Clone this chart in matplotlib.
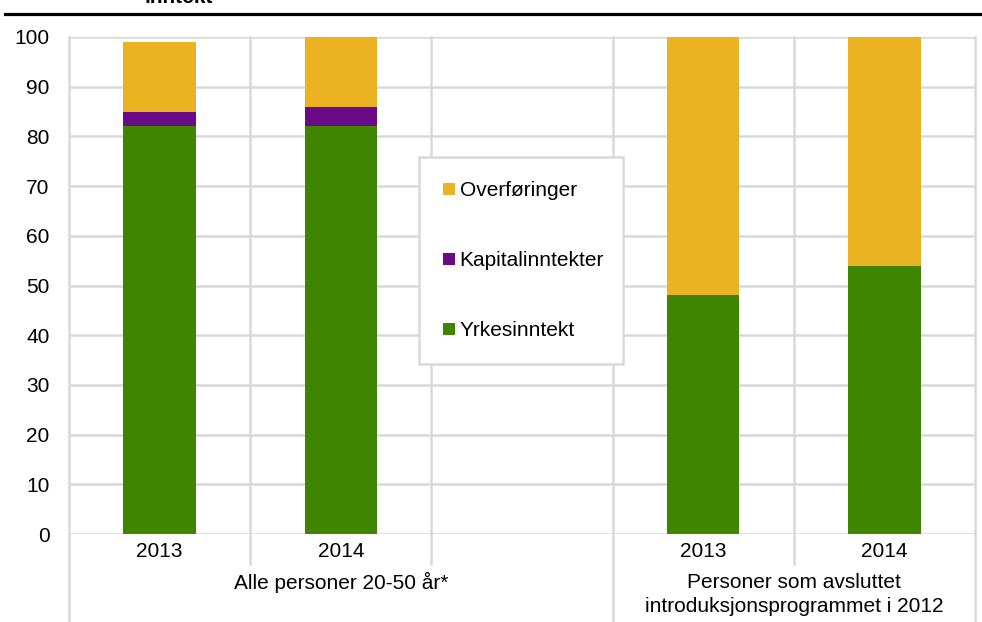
import matplotlib
matplotlib.use("Agg")
import matplotlib.pyplot as plt
from matplotlib.lines import Line2D
from matplotlib.transforms import blended_transform_factory
import numpy as np

plt.rcParams['font.family'] = ['Liberation Sans', 'DejaVu Sans']

# ---- data ----
categories = ["2013", "2014", "", "2013", "2014"]
yrkesinntekt = [82, 82, 0, 48, 54]
kapitalinntekter = [3, 4, 0, 0, 0]
overforinger = [14, 14, 0, 52, 46]
series_names = ["Yrkesinntekt", "Kapitalinntekter", "Overføringer"]
group_labels = ["Alle personer 20-50 år*", "Personer som avsluttet\nintroduksjonsprogrammet i 2012"]
title_text = "inntekt"
y_ticks = list(range(0, 101, 10))

colors = {"Yrkesinntekt": "#408500", "Kapitalinntekter": "#6B0A87", "Overføringer": "#EBB321"}
grid_c = "#D9D9D9"
FS = 15.0

W, H = 982, 622
fig = plt.figure(figsize=(W / 100, H / 100), dpi=100)
ax = fig.add_axes([69 / W, (H - 534) / H, (975 - 69) / W, (534 - 37) / H])

x = np.arange(len(categories))
bw = 0.4
ax.bar(x, yrkesinntekt, bw, color=colors["Yrkesinntekt"], zorder=3, label=series_names[0])
bottom2 = np.array(yrkesinntekt)
ax.bar(x, kapitalinntekter, bw, bottom=bottom2, color=colors["Kapitalinntekter"], zorder=3, label=series_names[1])
bottom3 = bottom2 + np.array(kapitalinntekter)
ax.bar(x, overforinger, bw, bottom=bottom3, color=colors["Overføringer"], zorder=3, label=series_names[2])

ax.set_xlim(-0.5, len(categories) - 0.5)
ax.set_ylim(0, 100)
for s in ax.spines.values():
    s.set_visible(False)

# horizontal grid
ax.set_yticks(y_ticks)
ax.yaxis.grid(True, color=grid_c, linewidth=1.8, zorder=0)
ax.set_axisbelow(True)
ax.tick_params(axis='y', length=0, pad=14, labelsize=FS, colors='black')
ax.tick_params(axis='x', length=0, pad=6, labelsize=FS, colors='black')
ax.set_xticks(x)
ax.set_xticklabels(categories)

# vertical separators (extend below the axis)
trans = blended_transform_factory(ax.transData, ax.transAxes)
inner_bottom = -(564 - 534) / 497
outer_bottom = -(622 - 534) / 497
boundaries = np.arange(-0.5, len(categories), 1.0)
group_bounds = [-0.5, 2.5, 4.5]
for b in boundaries:
    yb = outer_bottom if any(abs(b - g) < 1e-9 for g in group_bounds) else inner_bottom
    ax.plot([b, b], [yb, 1], transform=trans, color=grid_c, linewidth=1.8, clip_on=False, zorder=1)

# group labels
ax.text(1.0, -(582 - 534) / 497, group_labels[0], transform=trans, ha='center', va='center', fontsize=FS)
g2 = group_labels[1].split("\n")
ax.text(3.5, -(582 - 534) / 497, g2[0], transform=trans, ha='center', va='center', fontsize=FS)
ax.text(3.5, -(607 - 534) / 497, g2[1], transform=trans, ha='center', va='center', fontsize=FS)

# legend
order = ["Overføringer", "Kapitalinntekter", "Yrkesinntekt"]
handles = [Line2D([], [], marker='s', linestyle='none', markersize=8.5, markeredgewidth=0,
                  color=colors[n]) for n in order]
leg = fig.legend(handles, order, loc='upper left',
                 bbox_to_anchor=(419 / W, 1 - 362 / H, (623 - 419) / W, (362 - 157) / H),
                 mode='expand', fontsize=FS, frameon=True, fancybox=False, framealpha=1,
                 edgecolor=grid_c, facecolor='white', borderpad=1.15, labelspacing=2.45,
                 handlelength=0.6, handletextpad=0.2, borderaxespad=0)
leg.get_frame().set_linewidth(1.8)

# title remnant and rule
fig.text(179 / W, 1 - 3 / H, title_text, ha='center', va='baseline', fontsize=FS, fontweight='bold')
fig.add_artist(Line2D([5 / W, 1], [1 - 13.5 / H, 1 - 13.5 / H], color='black', linewidth=2.3))

fig.savefig("out.png", dpi=100)
